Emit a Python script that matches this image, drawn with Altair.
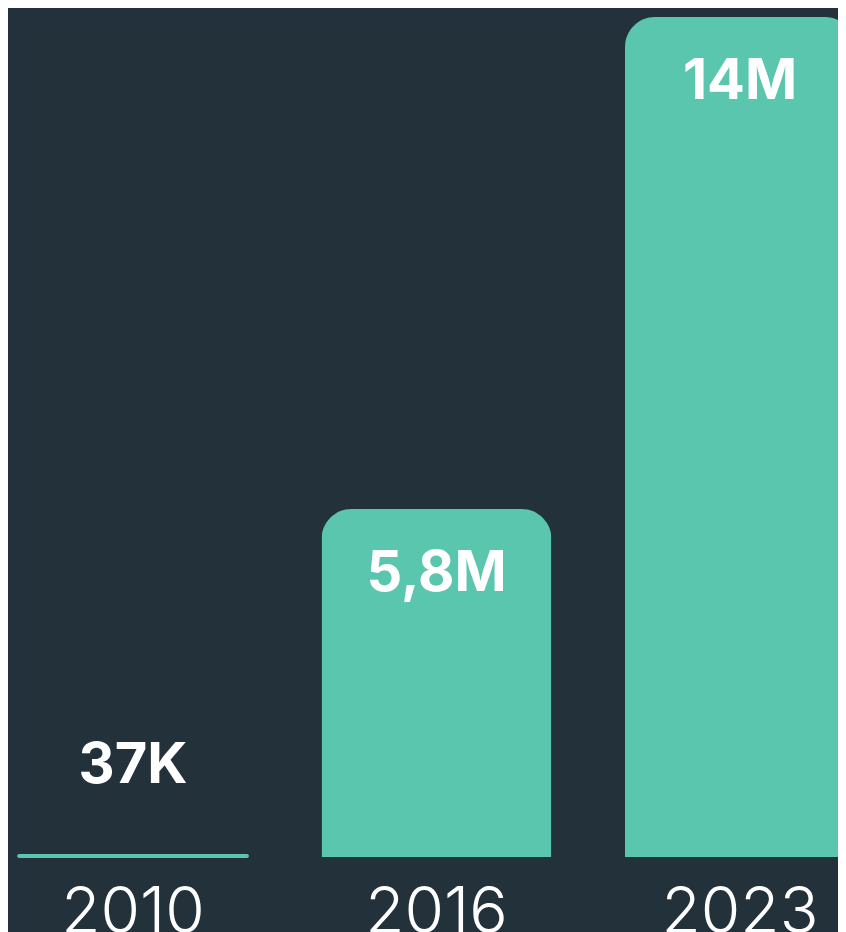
import altair as alt
import pandas as pd

years = ["2010", "2016", "2023"]
values = [37000, 5800000, 14000000]
labels = ["37K", "5,8M", "14M"]
inside = [False, True, True]

df = pd.DataFrame({"year": years, "value": values, "label": labels, "inside": inside})

BG = "#22313a"
BAR = "#5bc6ae"

x = alt.X("year:N", axis=None,
          scale=alt.Scale(range=[0, 857], paddingInner=0.2422, paddingOuter=0.033))
y = alt.Y("value:Q", axis=None, scale=alt.Scale(domain=[0, 14150000], nice=False))

base = alt.Chart(df).encode(x=x, y=y)

big_bars = base.transform_filter("datum.inside").mark_bar(
    color=BAR, cornerRadiusTopLeft=30, cornerRadiusTopRight=30)
small_bars = base.transform_filter("!datum.inside").mark_bar(
    color=BAR, cornerRadius=1.5, stroke=BAR, strokeWidth=1.8)

in_labels = base.transform_filter("datum.inside").mark_text(
    font="Inter", fontSize=56, fontWeight="bold", color="white",
    baseline="alphabetic", dy=82).encode(text="label:N")
out_labels = base.transform_filter("!datum.inside").mark_text(
    font="Inter", fontSize=56, fontWeight="bold", color="white",
    baseline="alphabetic", dy=-72).encode(text="label:N")

year_labels = alt.Chart(df).mark_text(
    font="Inter", fontSize=64, fontWeight=300, color="white",
    baseline="alphabetic", dy=76).encode(x=x, y=alt.datum(0), text="year:N")

chart = alt.layer(big_bars, small_bars, in_labels, out_labels, year_labels).properties(
    width=830, height=849,
    autosize=alt.AutoSizeParams(type="none"),
    padding={"left": 0, "top": 0, "right": 0, "bottom": 75},
    background=BG,
).configure_view(stroke=None)

chart.save("out.html", embed_options={"renderer": "svg", "actions": False})
